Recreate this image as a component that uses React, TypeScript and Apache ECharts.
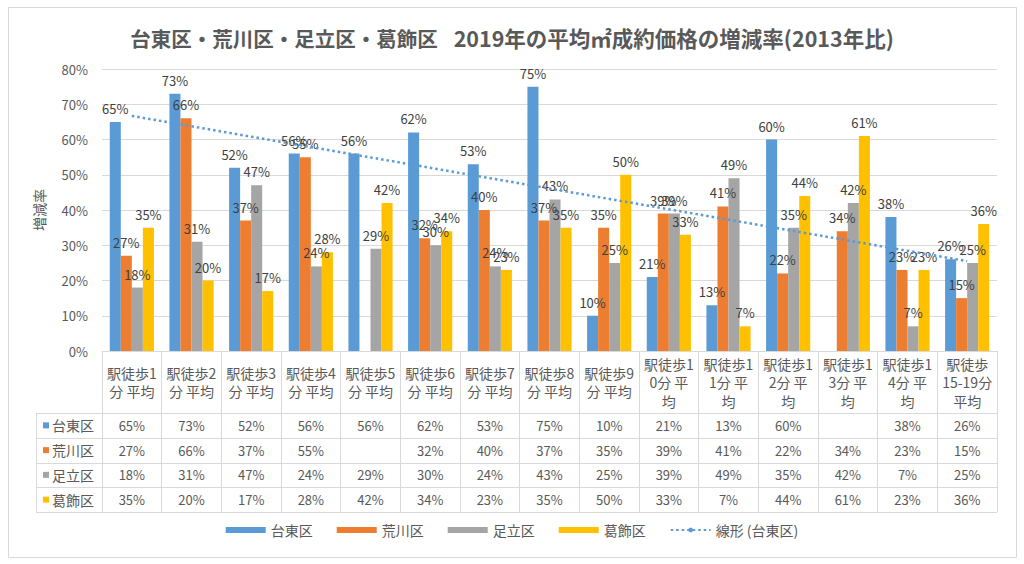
import React, { useEffect, useRef } from "react";
import * as echarts from "echarts";

const categories = [
  "駅徒歩1\n分 平均",
  "駅徒歩2\n分 平均",
  "駅徒歩3\n分 平均",
  "駅徒歩4\n分 平均",
  "駅徒歩5\n分 平均",
  "駅徒歩6\n分 平均",
  "駅徒歩7\n分 平均",
  "駅徒歩8\n分 平均",
  "駅徒歩9\n分 平均",
  "駅徒歩1\n0分 平\n均",
  "駅徒歩1\n1分 平\n均",
  "駅徒歩1\n2分 平\n均",
  "駅徒歩1\n3分 平\n均",
  "駅徒歩1\n4分 平\n均",
  "駅徒歩\n15-19分\n平均",
];
const seriesNames = ["台東区", "荒川区", "足立区", "葛飾区"];
const taito = [65, 73, 52, 56, 56, 62, 53, 75, 10, 21, 13, 60, null, 38, 26];
const arakawa = [27, 66, 37, 55, null, 32, 40, 37, 35, 39, 41, 22, 34, 23, 15];
const adachi = [18, 31, 47, 24, 29, 30, 24, 43, 25, 39, 49, 35, 42, 7, 25];
const katsushika = [35, 20, 17, 28, 42, 34, 23, 35, 50, 33, 7, 44, 61, 23, 36];
const trendName = "線形 (台東区)";
const yMin = 0;
const yMax = 80;
const yInterval = 10;

const colors = ["#5B9BD5", "#ED7D31", "#A5A5A5", "#FFC000"];
const FONT = "'Noto Sans CJK JP', 'Noto Sans', sans-serif";
const TEXT = "#595959";
const LINE = "#D9D9D9";

function linearTrend(vals: (number | null)[]): number[] {
  const pts: [number, number][] = [];
  vals.forEach((v, i) => {
    if (v !== null) pts.push([i + 1, v]);
  });
  const n = pts.length;
  const mx = pts.reduce((s, p) => s + p[0], 0) / n;
  const my = pts.reduce((s, p) => s + p[1], 0) / n;
  let sxy = 0;
  let sxx = 0;
  pts.forEach(([x, y]) => {
    sxy += (x - mx) * (y - my);
    sxx += (x - mx) * (x - mx);
  });
  const b = sxy / sxx;
  const a = my - b * mx;
  return vals.map((_, i) => +(a + b * (i + 1)).toFixed(3));
}

export default function App() {
  const ref = useRef<HTMLDivElement>(null);
  useEffect(() => {
    document.body.style.margin = "0";
    const chart = echarts.init(ref.current!, null, { renderer: "svg" });
    const data = [taito, arakawa, adachi, katsushika];
    const trend = linearTrend(taito);

    const barSeries = data.map((d, s) => ({
      name: seriesNames[s],
      type: "bar",
      data: d,
      barGap: "0%",
      barCategoryGap: "26%",
      itemStyle: { color: colors[s] },
      label: {
        show: true,
        position: "top",
        distance: 7,
        fontSize: 13,
        color: "#404040",
        fontFamily: FONT,
        formatter: (p: any) => (p.value === null || p.value === undefined ? "" : p.value + "%"),
      },
    }));

    const option: any = {
      animation: false,
      textStyle: { fontFamily: FONT },
      title: {
        left: "center",
        top: 22,
        text: "{b|台東区・荒川区・足立区・葛飾区}{n|2019年の平均㎡成約価格の増減率(2013年比)}",
        textStyle: {
          rich: {
            b: { fontSize: 20.5, fontWeight: "bold", color: TEXT, fontFamily: FONT },
            n: { fontSize: 21.5, color: TEXT, fontFamily: FONT, padding: [0, 0, 0, 16] },
          },
        },
      },
      legend: {
        bottom: 22,
        left: "center",
        itemWidth: 40,
        itemHeight: 6,
        itemGap: 24,
        textStyle: { fontSize: 14, color: TEXT, fontFamily: FONT },
        data: [
          ...seriesNames.map((n) => ({ name: n, icon: "rect" })),
          { name: trendName },
        ],
      },
      grid: { left: 102, right: 27, top: 69, bottom: 213 },
      xAxis: {
        type: "category",
        data: categories,
        axisLine: { lineStyle: { color: LINE } },
        axisTick: { show: true, interval: 0, length: 161, lineStyle: { color: LINE } },
        axisLabel: {
          interval: 0,
          fontSize: 14,
          lineHeight: 18.5,
          color: TEXT,
          verticalAlign: "middle",
          margin: 31,
          fontFamily: FONT,
        },
      },
      yAxis: {
        type: "value",
        min: yMin,
        max: yMax,
        interval: yInterval,
        name: "増減率",
        nameLocation: "middle",
        nameGap: 56,
        nameTextStyle: { fontSize: 14, color: TEXT, fontFamily: FONT },
        axisLabel: { formatter: "{value}%", fontSize: 13, color: TEXT, margin: 14, fontFamily: FONT },
        splitLine: { lineStyle: { color: LINE } },
        axisLine: { show: false },
        axisTick: { show: false },
      },
      series: [
        ...barSeries,
        {
          name: trendName,
          type: "line",
          data: trend,
          symbol: "none",
          z: 5,
          lineStyle: { color: "#5B9BD5", width: 2.5, type: [2.5, 3] },
          itemStyle: { color: "#5B9BD5" },
        },
      ],
    };
    chart.setOption(option);

    const xs = categories.map((_, i) => chart.convertToPixel({ xAxisIndex: 0 }, i) as number);
    const y0 = chart.convertToPixel({ yAxisIndex: 0 }, 0) as number;
    const headerH = 62;
    const rowH = 24.75;
    const tableLeft = 36;
    const colW = xs.length > 1 ? xs[1] - xs[0] : 60;
    const gridRight = xs[xs.length - 1] + colW / 2;
    const top = y0 + headerH;
    const els: any[] = [];
    els.push({
      type: "rect",
      shape: { x: 8.5, y: 7.5, width: 1008, height: 550 },
      style: { fill: "none", stroke: LINE, lineWidth: 1 },
      silent: true,
    });
    for (let r = 0; r <= 4; r++) {
      const y = Math.round(top + r * rowH) + 0.5;
      els.push({
        type: "line",
        shape: { x1: tableLeft, y1: y, x2: gridRight, y2: y },
        style: { stroke: LINE, lineWidth: 1 },
        silent: true,
      });
    }
    els.push({
      type: "line",
      shape: { x1: tableLeft + 0.5, y1: Math.round(top) + 0.5, x2: tableLeft + 0.5, y2: Math.round(top + 4 * rowH) + 0.5 },
      style: { stroke: LINE, lineWidth: 1 },
      silent: true,
    });
    data.forEach((d, s) => {
      const cy = top + (s + 0.5) * rowH;
      els.push({
        type: "rect",
        shape: { x: 43, y: cy - 3, width: 6, height: 6 },
        style: { fill: colors[s] },
        silent: true,
      });
      els.push({
        type: "text",
        x: 52,
        y: cy,
        style: {
          text: seriesNames[s],
          fontSize: 14,
          fill: TEXT,
          fontFamily: FONT,
          align: "left",
          verticalAlign: "middle",
        },
        silent: true,
      });
      d.forEach((v, i) => {
        if (v === null) return;
        els.push({
          type: "text",
          x: xs[i],
          y: cy,
          style: {
            text: v + "%",
            fontSize: 13,
            fill: TEXT,
            fontFamily: FONT,
            align: "center",
            verticalAlign: "middle",
          },
          silent: true,
        });
      });
    });
    chart.setOption({ graphic: { elements: els } });

    return () => chart.dispose();
  }, []);
  return <div ref={ref} style={{ width: 1024, height: 564 }} />;
}
